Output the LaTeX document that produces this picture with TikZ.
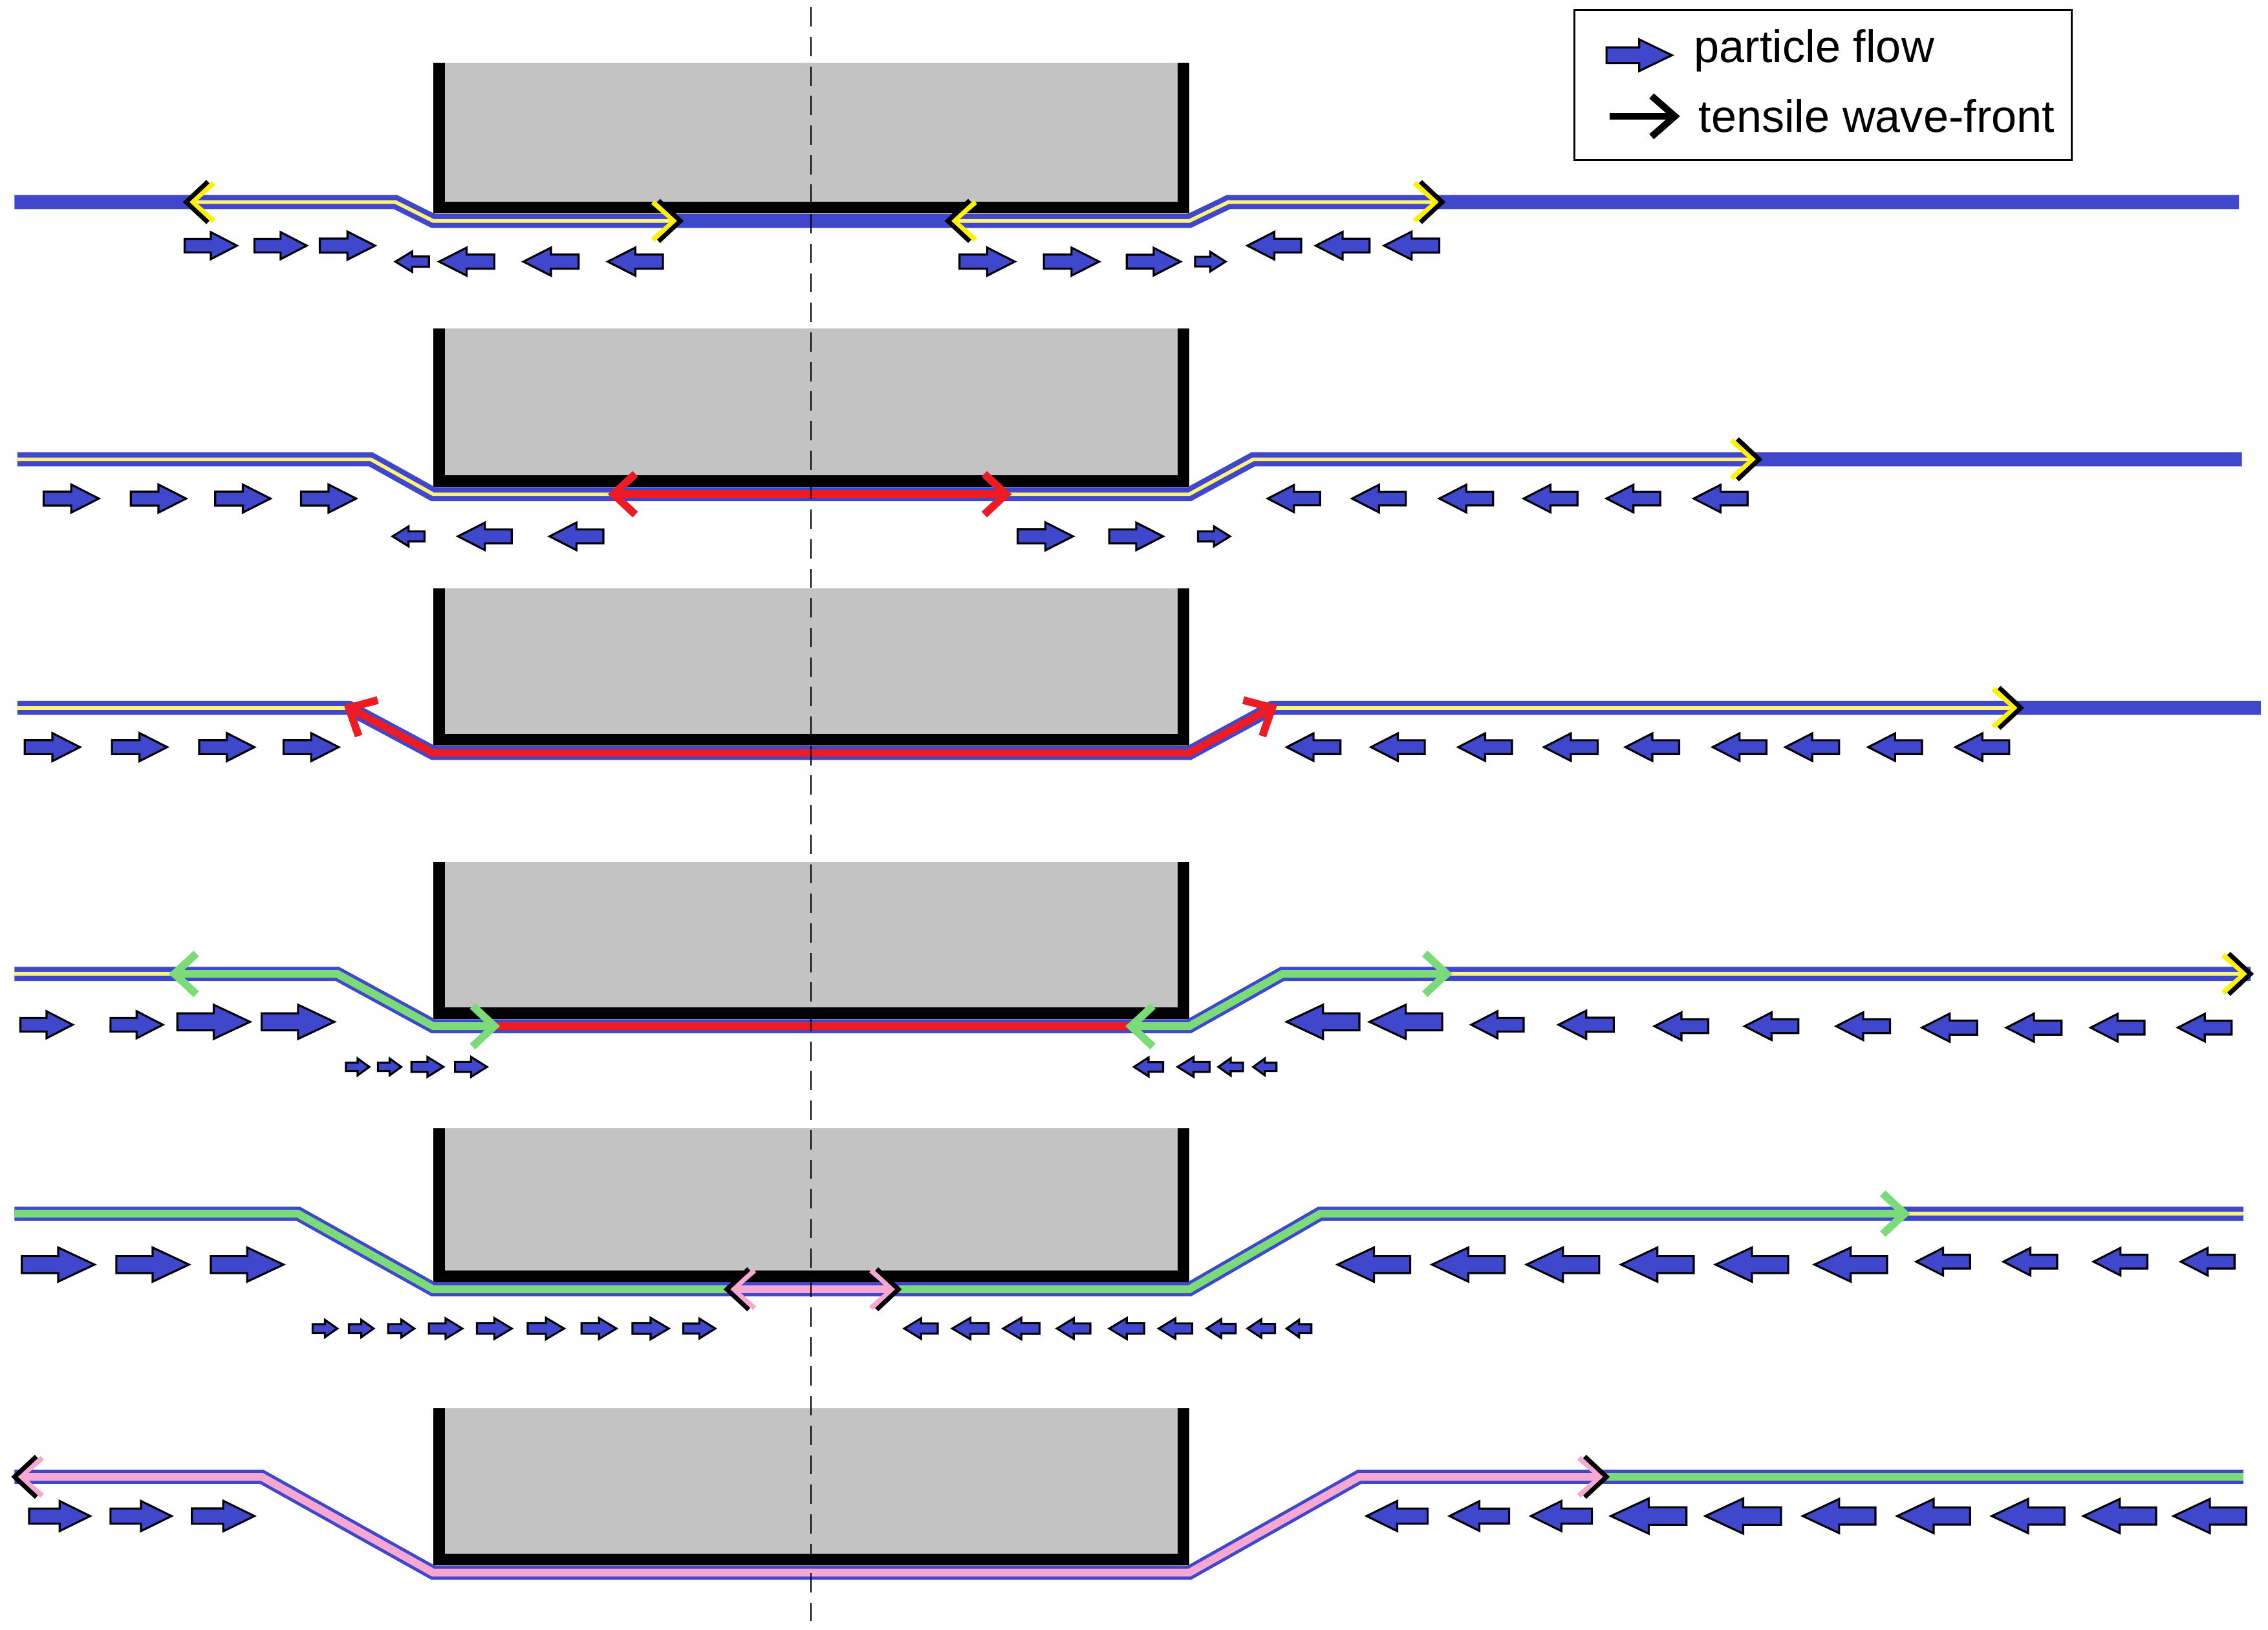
\documentclass[tikz,border=0pt]{standalone}
\usepackage{fontspec}
\setmainfont{Liberation Sans}
\definecolor{pblue}{HTML}{3F48CC}
\definecolor{pyel}{HTML}{FFF27A}
\definecolor{pyelt}{HTML}{FFF200}
\definecolor{pred}{HTML}{ED1C24}
\definecolor{pgreen}{HTML}{7ADB78}
\definecolor{ppink}{HTML}{F7A8D2}
\definecolor{pgray}{HTML}{C3C3C3}
\tikzset{
 base/.style={pblue,line width=6.2pt,line join=miter},
 yel/.style={pyel,line width=1.6pt,line join=miter},
 redl/.style={pred,line width=3.4pt,line join=miter},
 grn/.style={pgreen,line width=3.4pt,line join=miter},
 pnk/.style={ppink,line width=3.4pt,line join=miter},
 parrow/.style={fill=pblue,draw=black,line width=0.9pt},
 chev/.style={line width=2pt,line cap=butt,line join=miter},
}
% particle arrow from x1 to x2 at y
\newcommand\pa[3]{%
 \pgfmathsetmacro\LL{#2-#1}%
 \pgfmathsetmacro\HH{(0.35*abs(\LL)+6)/2}%
 \draw[parrow] (#1,#3-\HH/2) -- (#1+0.5*\LL,#3-\HH/2) -- (#1+0.5*\LL,#3-\HH) -- (#2,#3) -- (#1+0.5*\LL,#3+\HH) -- (#1+0.5*\LL,#3+\HH/2) -- (#1,#3+\HH/2) -- cycle;}
% tip: {colour}{x}{y}{angle}{with black 1/0}
\newcommand\wtip[5]{%
 \begin{scope}[shift={(#2,#3)},rotate=#4]
 \ifnum#5=1
  \draw[chev,#1,line width=2.2pt] (-19,-13) -- (-4,0) -- (-19,13);
  \draw[chev,black] (-15,-14) -- (0,0) -- (-15,14);
 \else
  \draw[chev,#1,line width=3.4pt] (-15,-14) -- (0,0) -- (-15,14);
 \fi
 \end{scope}}
\newcommand\blk[2]{% top y, bottom line y
 \fill[pgray] (298,#1) rectangle (818,#2-5);
 \fill[black] (298,#1) rectangle (306,#2-5);
 \fill[black] (810,#1) rectangle (818,#2-5);
 \fill[black] (298,#2-13) rectangle (818,#2-5);}
\begin{document}
\begin{tikzpicture}[x=0.02248cm,y=-0.02248cm]
\useasboundingbox (0,0) rectangle (1560,1121.4);
\fill[white] (0,0) rectangle (1560,1121.4);
% ---- row 1
\blk{43}{152}
\draw[base] (10,139) -- (272,139) -- (298,152) -- (818,152) -- (845,139) -- (1540,139);
\draw[yel] (128,139) -- (272,139) -- (298,152) -- (464,152);
\draw[yel] (656,152) -- (818,152) -- (845,139) -- (988,139);
\wtip{pyelt}{128}{139}{180}{1}\wtip{pyelt}{468}{152}{0}{1}
\wtip{pyelt}{652}{152}{180}{1}\wtip{pyelt}{992}{139}{0}{1}
\pa{127}{163}{169}\pa{175}{211}{169}\pa{220}{258}{169}
\pa{295}{272}{180}\pa{340}{302}{180}\pa{398}{360}{180}\pa{456}{418}{180}
\pa{660}{698}{180}\pa{718}{756}{180}\pa{775}{812}{180}\pa{822}{843}{180}
\pa{895}{858}{169}\pa{942}{905}{169}\pa{990}{952}{169}
% ---- row 2
\blk{226}{340}
\draw[base] (12,316) -- (255,316) -- (298,340) -- (818,340) -- (862,316) -- (1542,316);
\draw[yel] (12,316) -- (255,316) -- (298,340) -- (424,340);
\draw[yel] (690,340) -- (818,340) -- (862,316) -- (1206,316);
\draw[redl] (426,340) -- (688,340);
\wtip{pred}{422}{340}{180}{0}\wtip{pred}{692}{340}{0}{0}
\wtip{pyelt}{1210}{316}{0}{1}
\pa{30}{68}{343}\pa{90}{128}{343}\pa{148}{186}{343}\pa{207}{245}{343}
\pa{292}{270}{369}\pa{352}{315}{369}\pa{415}{378}{369}
\pa{700}{738}{369}\pa{763}{800}{369}\pa{824}{846}{369}
\pa{908}{872}{343}\pa{967}{930}{343}\pa{1027}{990}{343}\pa{1085}{1048}{343}\pa{1142}{1105}{343}\pa{1202}{1165}{343}
% ---- row 3
\blk{405}{518}
\draw[base] (12,487) -- (240,487) -- (298,518) -- (818,518) -- (875,487) -- (1555,487);
\draw[yel] (12,487) -- (240,487);
\draw[yel] (875,487) -- (1386,487);
\draw[redl] (244,489) -- (298,518) -- (818,518) -- (871,489);
\wtip{pred}{240}{487}{152}{0}\wtip{pred}{875}{487}{28}{0}
\wtip{pyelt}{1390}{487}{0}{1}
\pa{17}{55}{514}\pa{77}{115}{514}\pa{137}{175}{514}\pa{195}{233}{514}
\pa{922}{885}{514}\pa{980}{943}{514}\pa{1040}{1003}{514}\pa{1099}{1062}{514}\pa{1155}{1118}{514}
\pa{1215}{1178}{514}\pa{1265}{1228}{514}\pa{1322}{1285}{514}\pa{1382}{1345}{514}
% ---- row 4
\blk{593}{706}
\draw[base] (10,670) -- (232,670) -- (298,706) -- (818,706) -- (882,670) -- (1548,670);
\draw[yel] (10,670) -- (124,670);
\draw[grn] (124,670) -- (232,670) -- (298,706) -- (336,706);
\draw[redl] (340,706) -- (778,706);
\draw[grn] (782,706) -- (818,706) -- (882,670) -- (991,670);
\draw[yel] (995,670) -- (1544,670);
\wtip{pgreen}{120}{670}{180}{0}\wtip{pgreen}{340}{706}{0}{0}
\wtip{pgreen}{778}{706}{180}{0}\wtip{pgreen}{995}{670}{0}{0}
\wtip{pyelt}{1548}{670}{0}{1}
\pa{14}{50}{705}\pa{76}{112}{705}\pa{122}{172}{703}\pa{180}{230}{703}
\pa{935}{885}{703}\pa{992}{942}{703}\pa{1048}{1012}{705}\pa{1110}{1072}{705}\pa{1175}{1138}{706}
\pa{1237}{1200}{706}\pa{1300}{1263}{706}\pa{1360}{1322}{707}\pa{1418}{1380}{707}\pa{1475}{1438}{707}\pa{1535}{1498}{707}
\pa{238}{254}{734}\pa{260}{276}{734}\pa{283}{305}{734}\pa{313}{335}{734}
\pa{800}{780}{734}\pa{832}{810}{734}\pa{855}{838}{734}\pa{878}{862}{734}
% ---- row 5
\blk{776}{887}
\draw[base] (10,835) -- (205,835) -- (298,887) -- (818,887) -- (908,835) -- (1543,835);
\draw[grn] (10,835) -- (205,835) -- (298,887) -- (500,887);
\draw[pnk] (504,887) -- (614,887);
\draw[grn] (618,887) -- (818,887) -- (908,835) -- (1306,835);
\draw[yel] (1310,835) -- (1543,835);
\wtip{ppink}{500}{887}{180}{1}\wtip{ppink}{618}{887}{0}{1}
\wtip{pgreen}{1310}{835}{0}{0}
\pa{15}{65}{870}\pa{80}{130}{870}\pa{145}{195}{870}
\pa{970}{920}{870}\pa{1035}{985}{870}\pa{1100}{1050}{870}\pa{1165}{1115}{870}\pa{1230}{1180}{870}\pa{1298}{1248}{870}
\pa{1355}{1318}{868}\pa{1415}{1378}{868}\pa{1477}{1440}{868}\pa{1537}{1500}{868}
\pa{215}{232}{914}\pa{240}{257}{914}\pa{267}{285}{914}\pa{295}{318}{914}\pa{328}{352}{914}\pa{363}{388}{914}\pa{400}{424}{914}\pa{435}{460}{914}\pa{470}{492}{914}
\pa{645}{622}{914}\pa{680}{655}{914}\pa{715}{690}{914}\pa{750}{727}{914}\pa{787}{763}{914}\pa{820}{797}{914}\pa{850}{830}{914}\pa{877}{858}{914}\pa{902}{885}{914}
% ---- row 6
\blk{969}{1082}
\draw[base] (10,1016) -- (180,1016) -- (298,1082) -- (818,1082) -- (935,1016) -- (1543,1016);
\draw[pnk] (14,1016) -- (180,1016) -- (298,1082) -- (818,1082) -- (935,1016) -- (1101,1016);
\draw[grn] (1105,1016) -- (1543,1016);
\wtip{ppink}{10}{1016}{180}{1}\wtip{ppink}{1105}{1016}{0}{1}
\pa{20}{62}{1043}\pa{76}{118}{1043}\pa{132}{175}{1043}
\pa{982}{940}{1043}\pa{1038}{997}{1043}\pa{1095}{1053}{1043}
\pa{1160}{1108}{1043}\pa{1225}{1173}{1043}\pa{1290}{1240}{1043}\pa{1355}{1305}{1043}\pa{1420}{1370}{1043}\pa{1483}{1433}{1043}\pa{1545}{1495}{1043}
% ---- centre line
\draw[black,line width=0.6pt,dash pattern=on 8.5pt off 4.5pt] (558,5) -- (558,1115);
% ---- legend
\draw[black,line width=0.8pt] (1083,7) rectangle (1425,110);
\pa{1105}{1150}{38}
\draw[black,line width=3pt] (1107,80) -- (1148,80);
\draw[black,line width=3pt,line join=miter] (1136,66) -- (1152,80) -- (1136,94);
\node[anchor=west,font=\fontsize{20}{24}\selectfont,inner sep=0] (l1) at (1165,35) {particle flow};
\node[anchor=west,font=\fontsize{20}{24}\selectfont,inner sep=0] (l2) at (1168,80) {tensile wave-front};
\end{tikzpicture}
\end{document}
